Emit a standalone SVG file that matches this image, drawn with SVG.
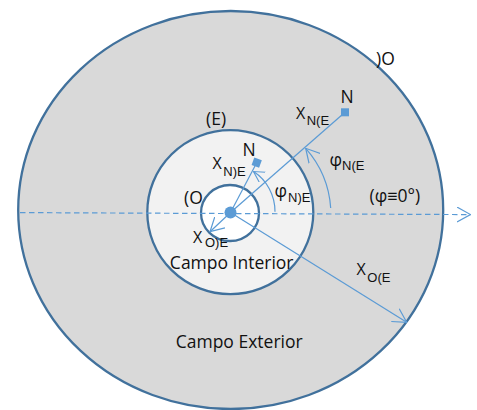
<svg xmlns="http://www.w3.org/2000/svg" width="477" height="410" viewBox="0 0 477 410">
<style>
.ring{stroke:#41719C;stroke-width:2.3}
.ln{fill:none;stroke:#5B9BD5;stroke-width:1.2}
.t{font-family:"Open Sans","Liberation Sans",sans-serif;fill:#111}
.m{font-size:17.5px}
.x{font-size:16px}
.s{font-size:13px;font-family:"Liberation Sans","Open Sans",sans-serif}
</style>
<defs>
<marker id="arr" viewBox="0 0 14 16" refX="13.5" refY="8" markerWidth="14" markerHeight="16" markerUnits="userSpaceOnUse" orient="auto">
<path d="M0,0.5 L13.5,8 L0,15.5" fill="none" stroke="#5B9BD5" stroke-width="1.2"/>
</marker>
<marker id="arrs" viewBox="0 0 14 16" refX="13.5" refY="8" markerWidth="11" markerHeight="13" markerUnits="userSpaceOnUse" orient="auto">
<path d="M0,0.5 L13.5,8 L0,15.5" fill="none" stroke="#5B9BD5" stroke-width="1.4"/>
</marker>
</defs>
<rect width="477" height="410" fill="#fff"/>
<g id="campo-exterior">
<ellipse class="ring" cx="230.7" cy="210" rx="212.5" ry="199" fill="#D9D9D9"/>
</g>
<g id="campo-interior">
<ellipse class="ring" cx="230.3" cy="212.2" rx="83" ry="82" fill="#F2F2F2"/>
</g>
<g id="nucleo">
<ellipse class="ring" cx="230" cy="213" rx="29" ry="28" fill="#fff"/>
</g>
<g id="connectors">
<path class="ln" d="M20,212.6 L470.5,214.6" stroke-dasharray="5.5 3.5" stroke-width="1.3" marker-end="url(#arr)"/>
<path class="ln" d="M230.5,212.5 L345,112.3"/>
<path class="ln" d="M230.5,212.5 L256.7,162.7"/>
<path class="ln" d="M230.5,212.5 L406.7,322.3" marker-end="url(#arr)"/>
<path class="ln" d="M230.5,212.5 L210,231.7" marker-end="url(#arr)"/>
<path class="ln" d="M330.7,208 A100,100 0 0 0 305.7,148.3" marker-end="url(#arr)"/>
<path class="ln" d="M275,211.7 A45,47 0 0 0 253.5,171.5" marker-end="url(#arrs)"/>
</g>
<g id="centro"><circle cx="230.5" cy="212.5" r="6" fill="#5B9BD5"/></g>
<g id="n-exterior"><rect x="341" y="108.3" width="8" height="8" fill="#5B9BD5"/></g>
<g id="n-interior"><rect x="252.7" y="158.7" width="8" height="8" fill="#5B9BD5" transform="rotate(20 256.7 162.7)"/></g>
<g id="labels">
<text class="t m" x="376" y="65">)O</text>
<text class="t m" x="206" y="124.5">(E)</text>
<text class="t m" x="340.5" y="103">N</text>
<text class="t x" x="296" y="118.5">X<tspan class="s" x="306.7" y="124.5">N(E</tspan></text>
<text class="t m" x="242.5" y="156">N</text>
<text class="t x" x="212.5" y="168.5">X<tspan class="s" x="223.3" y="175.7">N)E</tspan></text>
<text class="t m" x="184" y="203.5">(O</text>
<text class="t m" x="274.5" y="197">φ<tspan class="s" x="288" y="201.7">N)E</tspan></text>
<text class="t m" x="329.5" y="166">φ<tspan class="s" x="342" y="170">N(E</tspan></text>
<text class="t m" x="369.5" y="201.5">(φ≡0°)</text>
<text class="t x" x="193" y="243">X<tspan class="s" x="205" y="247">O)E</tspan></text>
<text class="t m" x="231.7" y="268.5" text-anchor="middle">Campo Interior</text>
<text class="t x" x="356.5" y="275">X<tspan class="s" x="367.3" y="281.7">O(E</tspan></text>
<text class="t m" x="239.2" y="348.3" text-anchor="middle">Campo Exterior</text>
</g>
</svg>
